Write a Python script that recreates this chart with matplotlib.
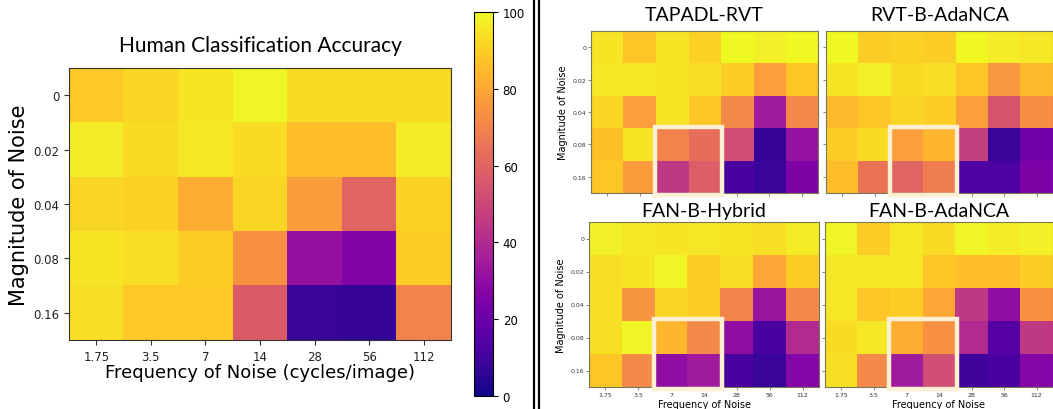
import matplotlib
matplotlib.use("Agg")
import matplotlib.pyplot as plt
import numpy as np
from matplotlib.lines import Line2D
from matplotlib.patches import Rectangle

# axis labels
freqs = ["1.75", "3.5", "7", "14", "28", "56", "112"]
mags = ["0", "0.02", "0.04", "0.08", "0.16"]

# accuracy (%), rows = magnitude, cols = frequency
human = [[89, 92, 95, 99, 93, 93, 93],
         [97, 93, 96, 93, 86, 86, 97],
         [92, 91, 82, 92, 77, 60, 91],
         [95, 94, 90, 74, 31, 26, 90],
         [94, 89, 89, 57, 8, 7, 70]]

tapadl_rvt = [[95, 88, 95, 91, 100, 98, 100],
              [96, 96, 95, 94, 90, 78, 88],
              [92, 78, 95, 88, 72, 35, 72],
              [87, 95, 70, 63, 52, 7, 32],
              [88, 77, 45, 58, 12, 8, 25]]

rvt_adanca = [[100, 90, 91, 90, 100, 97, 96],
              [95, 98, 93, 94, 88, 76, 85],
              [85, 88, 92, 90, 78, 55, 73],
              [90, 93, 78, 84, 47, 8, 22],
              [86, 65, 60, 68, 13, 13, 25]]

fan_hybrid = [[98, 96, 95, 96, 95, 94, 97],
              [94, 95, 99, 90, 94, 80, 90],
              [94, 75, 92, 90, 70, 33, 72],
              [94, 99, 84, 72, 30, 12, 40],
              [88, 72, 30, 35, 12, 8, 27]]

fan_adanca = [[99, 90, 96, 93, 99, 97, 98],
              [96, 96, 96, 88, 86, 86, 90],
              [96, 88, 90, 80, 45, 30, 74],
              [93, 96, 82, 74, 40, 15, 45],
              [94, 72, 35, 52, 10, 12, 27]]

W, H = 1053, 410

def px(l, t, r, b):
    # pixel box -> figure fraction
    return [l / W, (H - b) / H, (r - l) / W, (b - t) / H]

fig = plt.figure(figsize=(W / 100, H / 100), dpi=100)
title_font = "Lato"

# ---- left: human accuracy ----
ax = fig.add_axes(px(69, 69, 451, 341))
im = ax.imshow(np.array(human), cmap="plasma", vmin=0, vmax=100, aspect="auto")
ax.set_xticks(range(7))
ax.set_xticklabels(freqs, fontsize=8.5)
ax.set_yticks(range(5))
ax.set_yticklabels(mags, fontsize=8.5)
ax.tick_params(length=3.5, width=0.8, colors="#333333", labelcolor="#222222")
for s in ax.spines.values():
    s.set_color("#333333")
ax.set_xlabel("Frequency of Noise (cycles/image)", fontsize=13)
ax.set_ylabel("Magnitude of Noise", fontsize=15)
ax.xaxis.set_label_coords(0.5, -0.085)
ax.yaxis.set_label_coords(-0.105, 0.5)
ax.set_title("Human Classification Accuracy", fontsize=15, family=title_font, pad=12)

cax = fig.add_axes(px(474, 13, 493, 397))
cb = fig.colorbar(im, cax=cax)
cb.set_ticks([0, 20, 40, 60, 80, 100])
cb.ax.tick_params(labelsize=8.5, length=3.5, width=0.8)
cb.outline.set_linewidth(0.8)

# divider
for x in [534, 539]:
    fig.add_artist(Line2D([x / W, x / W], [0, 1], transform=fig.transFigure,
                          color="black", linewidth=1.6))

# ---- right: model panels ----
panels = [("TAPADL-RVT", tapadl_rvt, px(591, 32, 818, 194), True, False, 8),
          ("RVT-B-AdaNCA", rvt_adanca, px(826, 32, 1053, 194), False, False, 8),
          ("FAN-B-Hybrid", fan_hybrid, px(589, 223, 819, 388), True, True, 4),
          ("FAN-B-AdaNCA", fan_adanca, px(825, 223, 1053, 388), False, True, 4)]

for name, vals, box, show_y, show_x, tpad in panels:
    a = fig.add_axes(box)
    a.imshow(np.array(vals), cmap="plasma", vmin=0, vmax=100, aspect="auto")
    a.set_xticks(range(7))
    a.set_yticks(range(5))
    a.tick_params(length=2, width=0.5, labelsize=4.5, pad=1.5, colors="#555555",
                  labelcolor="#333333")
    if show_y:
        a.set_yticklabels(mags)
        a.set_ylabel("Magnitude of Noise", fontsize=7)
        a.yaxis.set_label_coords(-0.1, 0.5)
    else:
        a.set_yticklabels([])
    if show_x:
        a.set_xticklabels(freqs)
        a.set_xlabel("Frequency of Noise", fontsize=7)
        a.xaxis.set_label_coords(0.5, -0.075)
    else:
        a.set_xticklabels([])
    for s in a.spines.values():
        s.set_color("#77775a")
        s.set_linewidth(0.8)
    a.set_title(name, fontsize=14, family=title_font, pad=tpad)
    # highlight box around 7 / 14 at the two largest magnitudes
    a.add_patch(Rectangle((1.47, 2.45), 2.08, 2.1, fill=False, edgecolor="#fdefd2",
                          linewidth=3.2, clip_on=False, zorder=5))

fig.savefig("out.png", dpi=100)
